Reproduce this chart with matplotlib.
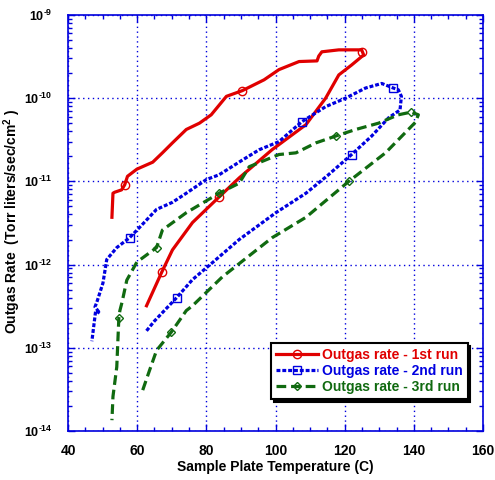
import math
import matplotlib
matplotlib.use("Agg")
import matplotlib.pyplot as plt
from matplotlib.ticker import MultipleLocator, LogLocator, FixedLocator, NullFormatter, FuncFormatter

plt.rcParams['font.family'] = ['Liberation Sans', 'DejaVu Sans']
plt.rcParams['font.weight'] = 'bold'
plt.rcParams['mathtext.fontset'] = 'custom'
plt.rcParams['mathtext.rm'] = 'Liberation Sans:bold'
plt.rcParams['mathtext.bf'] = 'Liberation Sans:bold'
plt.rcParams['mathtext.default'] = 'rm'
plt.rcParams['lines.scale_dashes'] = False

# 1st run: temperature (C) and outgas rate, traced along the loop
run1_temp = [62.7, 67.1, 70.2, 76.0, 83.7, 89.5, 99.0, 108.8, 114.5, 118.3, 122.0, 125.5,
             124.9, 118.3, 113.4, 112.5, 112.0, 106.8, 101.0, 96.7, 90.4, 85.8, 81.4, 78.0,
             74.2, 70.2, 67.3, 64.5, 59.9, 57.2, 56.4, 55.5, 53.5, 53.0, 52.7]
run1_rate = [3.2e-13, 8.1e-13, 1.5e-12, 3.2e-12, 6.5e-12, 1.1e-11, 2.4e-11, 4.8e-11, 1.0e-10,
             1.9e-10, 2.5e-10, 3.3e-10, 3.8e-10, 3.8e-10, 3.6e-10, 3.2e-10, 2.8e-10, 2.75e-10,
             2.2e-10, 1.66e-10, 1.23e-10, 1.05e-10, 6.3e-11, 5.0e-11, 4.2e-11, 2.9e-11, 2.2e-11,
             1.7e-11, 1.4e-11, 1.15e-11, 9.1e-12, 7.9e-12, 7.4e-12, 7.2e-12, 3.7e-12]
run1_mark_temp = [67.1, 83.7, 124.9, 90.4, 56.4]
run1_mark_rate = [8.1e-13, 6.5e-12, 3.6e-10, 1.23e-10, 9.1e-12]

# 2nd run
run2_temp = [62.7, 65.0, 71.4, 76.0, 81.7, 89.5, 100.1, 108.8, 115.0, 122.0, 127.8, 132.7,
             136.0, 136.4, 135.5, 134.1, 130.7, 126.0, 120.3, 114.5, 107.6, 101.0, 95.3, 90.4,
             83.7, 80.0, 74.2, 70.2, 65.6, 60.7, 57.8, 54.1, 51.2, 50.1, 48.3, 47.8, 49.2,
             48.0, 46.9]
run2_rate = [1.6e-13, 2.1e-13, 4.0e-13, 6.6e-13, 1.05e-12, 2.0e-12, 4.2e-12, 7.2e-12, 1.17e-11,
             2.1e-11, 3.5e-11, 5.8e-11, 7.2e-11, 1.05e-10, 1.26e-10, 1.32e-10, 1.5e-10, 1.32e-10,
             1.0e-10, 7.9e-11, 5.2e-11, 3.0e-11, 2.4e-11, 1.8e-11, 1.2e-11, 1.05e-11, 7.2e-12,
             5.6e-12, 4.6e-12, 2.8e-12, 2.1e-12, 1.6e-12, 1.15e-12, 6.0e-13, 3.5e-13, 3.1e-13,
             2.6e-13, 2.8e-13, 1.2e-13]
run2_mark_temp = [71.4, 122.0, 134.1, 107.6, 57.8]
run2_mark_rate = [4.0e-13, 2.1e-11, 1.32e-10, 5.2e-11, 2.1e-12]

# 3rd run
run3_temp = [61.6, 63.6, 65.6, 69.9, 74.2, 76.0, 84.6, 99.0, 108.8, 121.2, 131.8, 140.4,
             141.3, 139.3, 135.5, 129.8, 123.2, 117.4, 111.7, 105.9, 101.0, 92.4, 89.5, 83.7,
             74.2, 67.3, 65.6, 59.9, 57.0, 55.6, 55.0, 54.7, 54.1, 53.0, 52.7]
run3_rate = [3.1e-14, 5.4e-14, 9.3e-14, 1.55e-13, 2.8e-13, 3.2e-13, 7.1e-13, 2.1e-12, 3.7e-12,
             1.0e-11, 2.2e-11, 5.1e-11, 6.3e-11, 6.8e-11, 6.3e-11, 5.0e-11, 4.2e-11, 3.5e-11,
             2.9e-11, 2.2e-11, 2.1e-11, 1.5e-11, 9.5e-12, 7.2e-12, 4.2e-12, 2.6e-12, 1.6e-12,
             1.07e-12, 6.5e-13, 3.5e-13, 2.8e-13, 2.3e-13, 5.9e-14, 2.6e-14, 1.35e-14]
run3_mark_temp = [69.9, 121.2, 139.3, 117.4, 83.7, 65.6, 54.7]
run3_mark_rate = [1.55e-13, 1.0e-11, 6.8e-11, 3.5e-11, 7.2e-12, 1.6e-12, 2.3e-13]

y_major = [1e-14, 1e-13, 1e-12, 1e-11, 1e-10, 1e-9]
labels = ['Outgas rate - 1st run', 'Outgas rate - 2nd run', 'Outgas rate - 3rd run']

red = '#e00000'
blue = '#0000e0'
green = '#106a10'
axis_blue = '#0000dd'

fig = plt.figure(figsize=(4.95, 4.8), dpi=100)
ax = fig.add_axes([0.1374, 0.102, 0.8384, 0.867])

ax.plot(run1_temp, run1_rate, color=red, lw=2.3, linestyle='-')
ax.plot(run1_mark_temp, run1_mark_rate, linestyle='none', marker='o', ms=6,
        mfc='none', mec=red, mew=1)
ax.plot(run2_temp, run2_rate, color=blue, lw=2.3, dashes=(2.8, 1.4))
ax.plot(run2_mark_temp, run2_mark_rate, linestyle='none', marker='s', ms=6,
        mfc='none', mec=blue, mew=1)
ax.plot(run3_temp, run3_rate, color=green, lw=2.3, dashes=(7, 3.5))
ax.plot(run3_mark_temp, run3_mark_rate, linestyle='none', marker='D', ms=4.5,
        mfc='none', mec=green, mew=1)

# legend handles: line with a marker in the middle
h1, = ax.plot([], [], color=red, lw=2.3, marker='o', mfc='none', mec=red, ms=6)
h2, = ax.plot([], [], color=blue, lw=2.3, dashes=(2.8, 1.4), marker='s', mfc='none', mec=blue, ms=6)
h3, = ax.plot([], [], color=green, lw=2.3, dashes=(7, 3.5), marker='D', mfc='none', mec=green, ms=4.5)

ax.set_yscale('log')
ax.set_xlim(40, 160)
ax.set_ylim(1e-14, 1e-9)

ax.xaxis.set_major_locator(MultipleLocator(20))
ax.xaxis.set_minor_locator(MultipleLocator(5))
ax.yaxis.set_major_locator(FixedLocator(y_major))
ax.yaxis.set_minor_locator(LogLocator(base=10, subs=range(2, 10), numticks=10))
ax.yaxis.set_minor_formatter(NullFormatter())
ax.yaxis.set_major_formatter(FuncFormatter(
    lambda v, p: '$10^{\u2010%d}$' % abs(round(math.log10(v)))))

ax.tick_params(which='both', direction='in', top=True, right=True, color=axis_blue,
               labelcolor='black')
ax.tick_params(axis='x', labelsize=10, pad=9)
ax.tick_params(axis='y', labelsize=9, pad=11)
ax.tick_params(which='major', length=5, width=1)
ax.tick_params(which='minor', length=3, width=1)
for s in ax.spines.values():
    s.set_color(axis_blue)
    s.set_linewidth(1.2)

ax.grid(True, which='major', color=axis_blue, linestyle=(0, (1, 2.5)), lw=1)

ax.set_xlabel('Sample Plate Temperature (C)', fontsize=10, fontweight='bold', labelpad=2)
ax.set_ylabel('Outgas Rate  (Torr liters/sec/cm$^{2}$ )', fontsize=10, fontweight='bold',
              family=['Liberation Sans Narrow', 'Liberation Sans'])
ax.yaxis.set_label_coords(-0.108, 0.505)

leg = ax.legend([h1, h2, h3], labels,
                loc='lower left', bbox_to_anchor=(0.49, 0.077), fontsize=10,
                frameon=True, fancybox=False, shadow={'color': 'black', 'alpha': 1},
                handlelength=3.0, borderpad=0.35, labelspacing=0.15, handletextpad=0.3,
                borderaxespad=0)
leg.get_frame().set_edgecolor('black')
leg.get_frame().set_linewidth(1.5)
for txt, c in zip(leg.get_texts(), [red, blue, green]):
    txt.set_color(c)
    txt.set_fontweight('bold')

fig.savefig('out.png', dpi=100)
